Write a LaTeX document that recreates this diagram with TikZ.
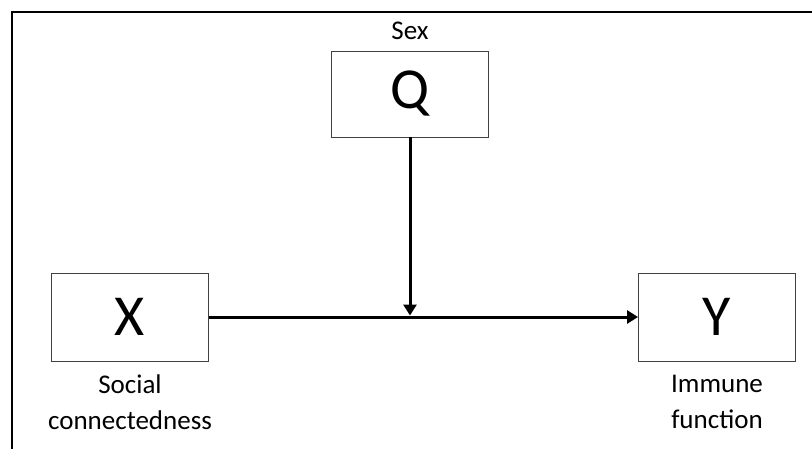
\documentclass[tikz,border=0pt]{standalone}
\usepackage{fontspec}
\setmainfont{Carlito}
\usetikzlibrary{positioning,arrows.meta}

\begin{document}
\begin{tikzpicture}[x=1pt, y=-1pt, semithick,
  varbox/.style={draw=black!75, line width=0.9pt, minimum width=157pt, minimum height=88pt, inner sep=0pt, font=\fontsize{58}{58}\selectfont},
  lbl/.style={inner sep=0pt, align=center, font=\fontsize{27}{36}\selectfont},
  link/.style={line width=3pt, -{Triangle[length=11pt,width=13pt]}}]

  \useasboundingbox (0,0) rectangle (812,448);
  \clip (0,0) rectangle (812,448);
  \draw[line width=2.4pt] (12,470) -- (12,12) -- (830,12);

  \node[varbox] (boxX) at (130,317) {X};
  \node[varbox] (boxY) at (717,317) {Y};
  \node[varbox, minimum height=86pt] (boxQ) at (410,94) {Q};

  \node[lbl, above=11pt of boxQ] (sexLbl) {Sex};
  \node[lbl, below=13pt of boxX] (xLbl) {Social\\connectedness};
  \node[lbl, below=13pt of boxY] (yLbl) {Immune\\function};

  \coordinate (join) at (boxQ.south |- boxX.east);
  \draw[link] (boxX) -- (boxY);
  \draw[link, shorten >=1.5pt] (boxQ) -- (join);
\end{tikzpicture}
\end{document}
